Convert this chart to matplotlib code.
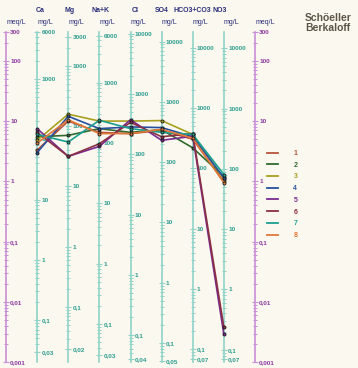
import matplotlib
matplotlib.use("Agg")
import matplotlib.pyplot as plt
import numpy as np
from matplotlib.lines import Line2D
from matplotlib.ticker import FixedLocator, LogLocator, FuncFormatter, NullFormatter
from matplotlib.transforms import blended_transform_factory

plt.rcParams["font.family"] = ["Liberation Sans", "DejaVu Sans"]

# Schoeller-Berkaloff columns: ion, equivalent weight (mg per meq), end labels
IONS = ["Ca", "Mg", "Na+K", "Cl", "SO4", "HCO3+CO3", "NO3"]
EQ_WEIGHT = [20.04, 12.15, 23.0, 35.45, 48.03, 61.02, 62.0]
TOP_LABEL = [6000, 3000, 6000, 10000, 10000, 10000, 10000]
BOTTOM_LABEL = [0.03, 0.02, 0.03, 0.04, 0.05, 0.07, 0.07]
MEQ_TICKS = [300, 100, 10, 1, 0.1, 0.01, 0.001]

# sample concentrations in meq/L, in the column order above
SAMPLES = ["1", "2", "3", "4", "5", "6", "7", "8"]
S1 = [3.3, 10.0, 6.5, 6.2, 7.0, 5.0, 1.0]
S2 = [5.5, 5.8, 7.5, 6.5, 7.2, 3.6, 1.2]
S3 = [4.8, 13.0, 10.0, 10.0, 10.2, 6.0, 1.1]
S4 = [3.0, 12.0, 7.5, 8.0, 7.8, 5.5, 1.15]
S5 = [7.5, 2.6, 3.8, 10.5, 4.8, 5.6, 0.0029]
S6 = [6.5, 2.6, 4.2, 9.5, 5.5, 6.2, 0.0038]
S7 = [6.0, 4.5, 10.3, 7.5, 6.5, 6.0, 1.3]
S8 = [4.3, 10.5, 6.2, 6.2, 7.3, 5.2, 0.95]
VALUES = [S1, S2, S3, S4, S5, S6, S7, S8]
COLORS = ["#b5553a", "#2f6b2f", "#a8a020", "#2850a0",
          "#7a2a90", "#8a3045", "#1aa090", "#e0783a"]

# header anchor x (column units) for ion names
NAME_X = [1.1, 2.03, 3.05, 4.15, 5.0, 6.0, 6.88]

TEAL_LINE, TEAL_TEXT = "#8fd3c9", "#2f9e90"
PURP_LINE, PURP_TEXT = "#c98fd8", "#8e3aa0"
NAVY = "#2a2f7a"
BG = "#fbf8ef"

W, H = 358, 368
X0, DX = 6.0, 31.125          # pixel of left meq axis, column spacing
Y_TOP, Y_BOT = 32.0, 362.3    # pixel of 300 and 0.001 meq/L


def comma_fmt(v, pos):
    return f"{v:g}".replace(".", ",")


def style_axis(sec, color_line, color_text, majors):
    sec.set_alignment("right")
    sec.spines["right"].set_color(color_line)
    sec.spines["right"].set_linewidth(1.2)
    sec.yaxis.set_major_locator(FixedLocator(majors))
    sec.yaxis.set_major_formatter(FuncFormatter(comma_fmt))
    sec.yaxis.set_minor_locator(LogLocator(base=10, subs=np.arange(2, 10) * 1.0, numticks=30))
    sec.yaxis.set_minor_formatter(NullFormatter())
    sec.tick_params(which="major", direction="inout", length=4.5, width=0.8,
                    color=color_line, labelcolor=color_text, labelsize=4.6, pad=0.8)
    sec.tick_params(which="minor", direction="inout", length=3.0, width=0.7,
                    color=color_line)
    for lab in sec.get_yticklabels():
        lab.set_fontweight("bold")


fig = plt.figure(figsize=(W / 100, H / 100), dpi=100)
fig.patch.set_facecolor(BG)
ax = fig.add_axes([0, (H - Y_BOT) / H, 1, (Y_BOT - Y_TOP) / H])
ax.set_facecolor("none")
ax.set_yscale("log")
ax.set_ylim(0.001, 300)
ax.set_xlim(-X0 / DX, (W - X0) / DX)
for s in ax.spines.values():
    s.set_visible(False)
ax.set_xticks([])
ax.set_yticks([])
ax.minorticks_off()

# meq/L axes at both sides
for col in (0, 8):
    sec = ax.secondary_yaxis((X0 + DX * col) / W)
    style_axis(sec, PURP_LINE, PURP_TEXT, MEQ_TICKS)

# mg/L axes, one per ion
for i, ew in enumerate(EQ_WEIGHT):
    lo, hi = 0.001 * ew, 300 * ew
    decades = [d for d in 10.0 ** np.arange(-3, 6) if lo <= d <= hi]
    majors = sorted(set(decades + [TOP_LABEL[i], BOTTOM_LABEL[i]]))
    sec = ax.secondary_yaxis((X0 + DX * (i + 1)) / W,
                             functions=(lambda m, ew=ew: m * ew,
                                        lambda g, ew=ew: g / ew))
    style_axis(sec, TEAL_LINE, TEAL_TEXT, majors)

# sample lines
xs = np.arange(1, len(IONS) + 1)
for name, vals, c in zip(SAMPLES, VALUES, COLORS):
    ax.plot(xs, vals, color=c, lw=1.2, marker="o", ms=2.2,
            mfc=c, mec="#1a1a1a", mew=0.6, zorder=3)

# headers
tr = blended_transform_factory(ax.transData, fig.transFigure)
for i, name in enumerate(IONS):
    ax.text(NAME_X[i], 1 - 10 / H, name, transform=tr, ha="center", va="center",
            fontsize=5.0, fontweight="bold", color=NAVY)
    ax.text(i + 1, 1 - 22 / H, "mg/L", transform=tr, ha="left", va="center",
            fontsize=5, color=NAVY)
for col in (0, 8):
    ax.text(col + 0.03, 1 - 22 / H, "meq/L", transform=tr, ha="left", va="center",
            fontsize=5, color=NAVY)

fig.text(305 / W, 1 - 13 / H, "Schöeller\nBerkaloff", ha="left", va="top",
         fontsize=7.5, fontweight="bold", color="#5c5648", linespacing=1.05)

handles = [Line2D([], [], color=c, lw=1.3) for c in COLORS]
leg = fig.legend(handles, SAMPLES, loc="upper left",
                 bbox_to_anchor=(267 / W, 1 - 150 / H), frameon=False,
                 fontsize=5, labelcolor=COLORS, handlelength=1.6,
                 handletextpad=2.2, labelspacing=0.68, borderpad=0,
                 borderaxespad=0)
for t in leg.get_texts():
    t.set_fontweight("bold")

fig.savefig("out.png", dpi=100, facecolor=BG)
